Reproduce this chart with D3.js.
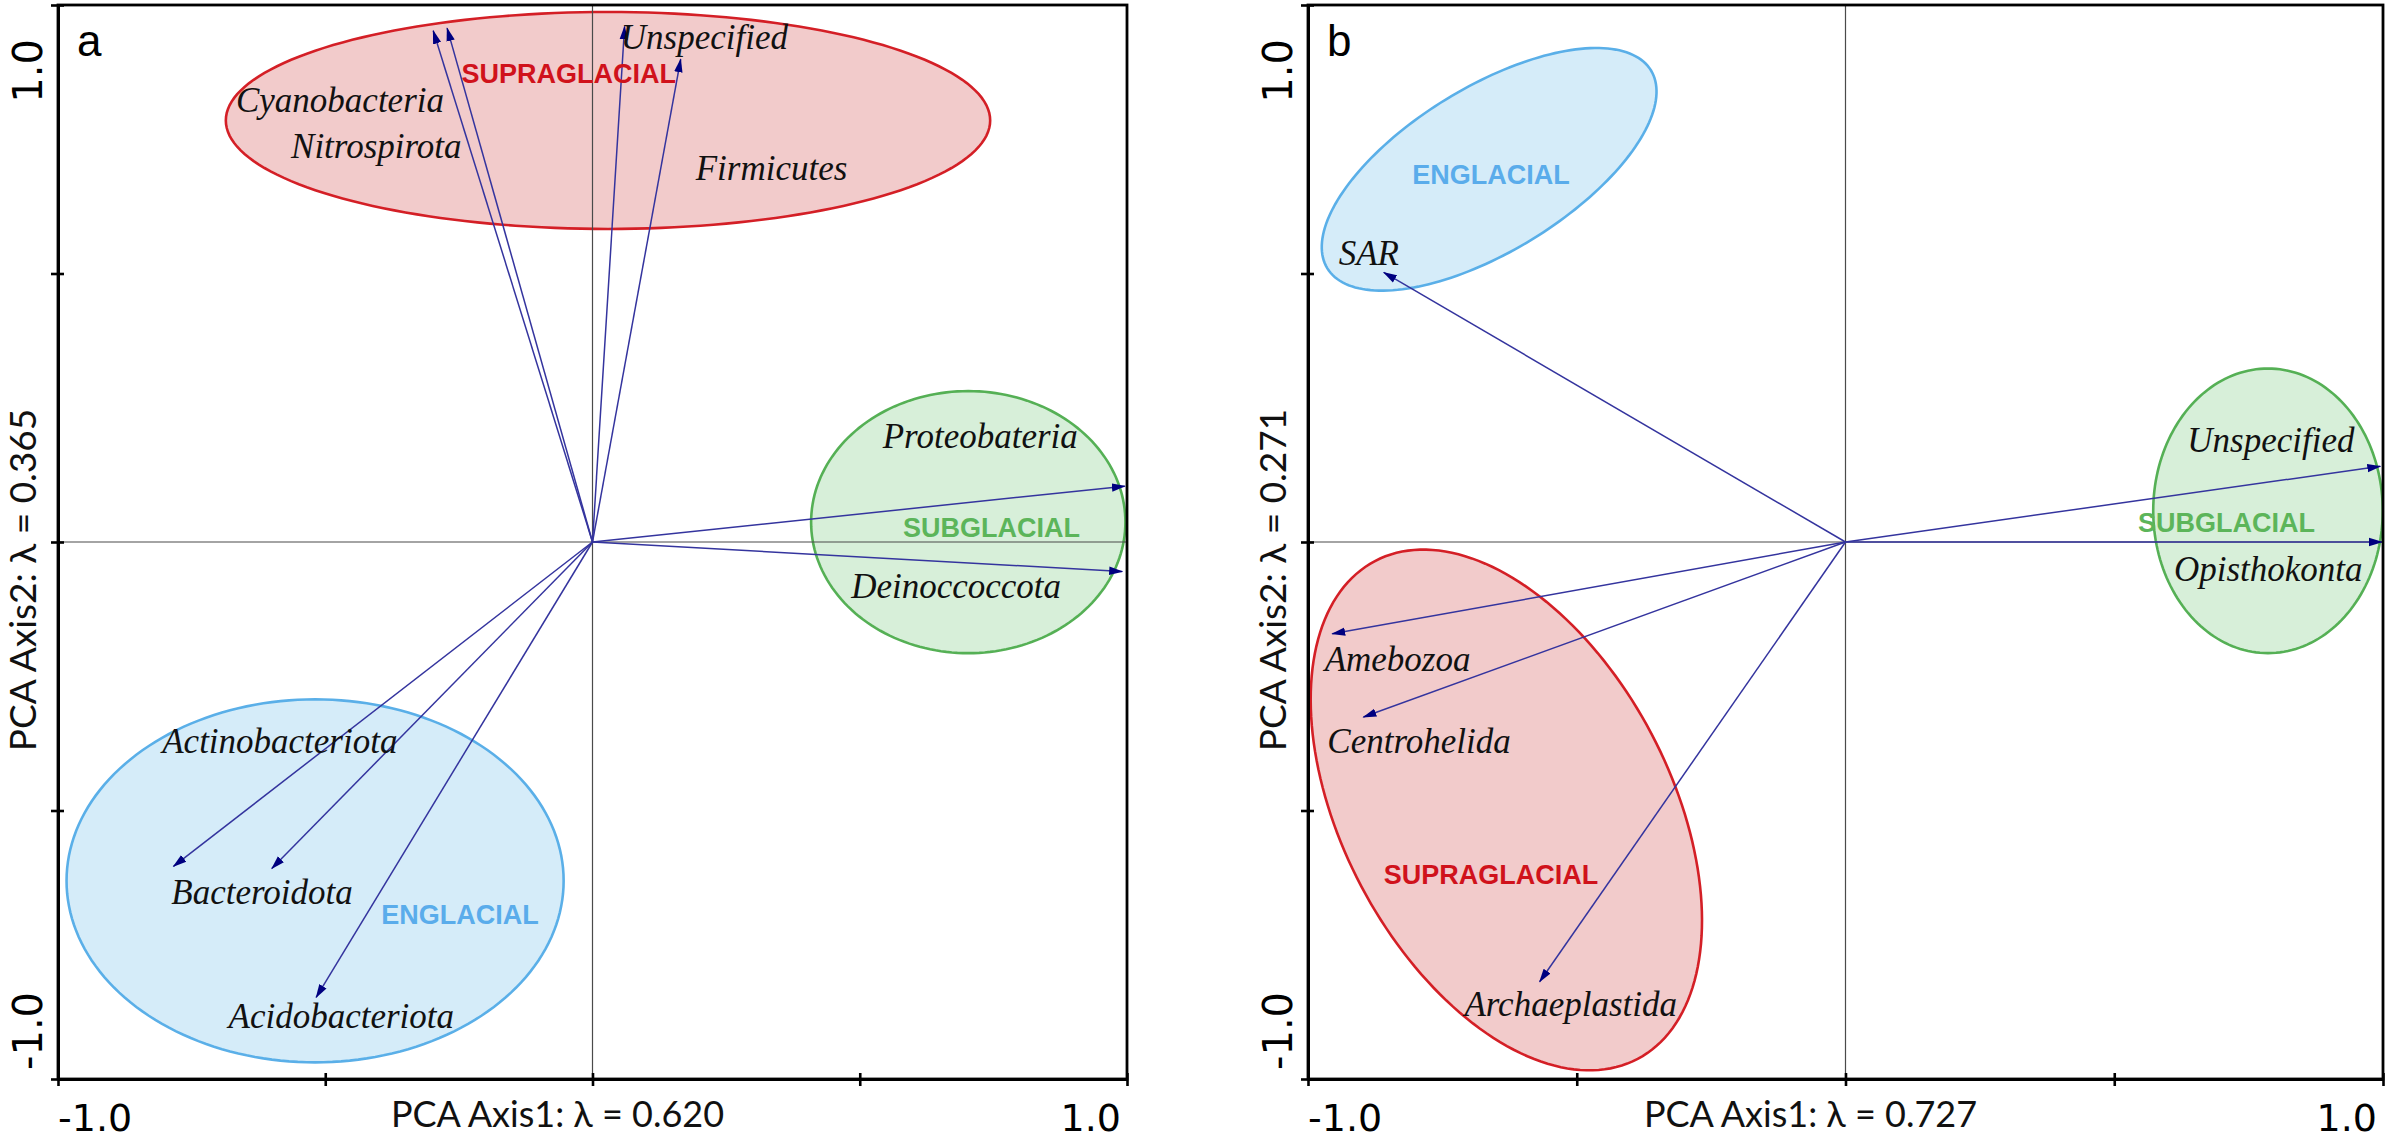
<!DOCTYPE html>
<html><head><meta charset="utf-8">
<script src="https://cdn.jsdelivr.net/npm/d3@7"></script>
<style>body{margin:0;background:#fff} svg{display:block}</style>
</head><body><svg id="chart" width="2389" height="1142"></svg>
<script>
// ---------- DATA ----------
const tickValues = [-1, -0.5, 0, 0.5, 1];
const tickLabelLow = "-1.0";
const tickLabelHigh = "1.0";

// Panel a (bacteria)
const speciesA = ["Cyanobacteria","Nitrospirota","Unspecified","Firmicutes","Proteobateria","Deinoccoccota","Actinobacteriota","Bacteroidota","Acidobacteriota"];
const pc1A = [-0.298, -0.272, 0.060, 0.165, 0.996, 0.991, -0.784, -0.600, -0.517];
const pc2A = [0.952, 0.957, 0.960, 0.899, 0.104, -0.055, -0.604, -0.608, -0.848];
const labelPc1A = [-0.667, -0.564, 0.053, 0.193, 0.543, 0.484, -0.805, -0.788, -0.681];
const labelPc2A = [0.801, 0.715, 0.918, 0.674, 0.175, -0.104, -0.393, -0.674, -0.905];
const groupsA = ["SUPRAGLACIAL","SUBGLACIAL","ENGLACIAL"];
const groupLabelPc1A = [-0.245, 0.581, -0.395];
const groupLabelPc2A = [0.855, 0.009, -0.712];
const ellCenterPc1A = [0.029, 0.703, -0.519];
const ellCenterPc2A = [0.785, 0.037, -0.631];
const ellSemiMajorA = [0.715, 0.294, 0.465];
const ellSemiMinorA = [0.202, 0.244, 0.338];
const ellAngleA = [0, 0, 0];
const axisTitlesA = ["PCA Axis1: λ = 0.620", "PCA Axis2: λ = 0.365"];

// Panel b (eukaryotes)
const speciesB = ["SAR","Unspecified","Opisthokonta","Amebozoa","Centrohelida","Archaeplastida"];
const pc1B = [-0.859, 0.995, 0.998, -0.955, -0.897, -0.569];
const pc2B = [0.502, 0.141, 0.000, -0.171, -0.326, -0.819];
const labelPc1B = [-0.943, 0.636, 0.611, -0.969, -0.964, -0.709];
const labelPc2B = [0.515, 0.168, -0.073, -0.240, -0.392, -0.883];
const groupsB = ["ENGLACIAL","SUBGLACIAL","SUPRAGLACIAL"];
const groupLabelPc1B = [-0.806, 0.544, -0.859];
const groupLabelPc2B = [0.667, 0.018, -0.637];
const ellCenterPc1B = [-0.663, 0.786, -0.631];
const ellCenterPc2B = [0.694, 0.058, -0.499];
const ellSemiMajorB = [0.353, 0.2135, 0.524];
const ellSemiMinorB = [0.153, 0.265, 0.305];
const ellAngleB = [31.5, 0, -62.2];
const axisTitlesB = ["PCA Axis1: λ = 0.727", "PCA Axis2: λ = 0.271"];

const panelLetters = ["a", "b"];

// ---------- STYLE ----------
const groupStyle = {
  SUPRAGLACIAL: {fill: "#f2cbcb", stroke: "#d41f26", text: "#d0121b"},
  ENGLACIAL:    {fill: "#d5ecf9", stroke: "#5aafe8", text: "#5aaceb"},
  SUBGLACIAL:   {fill: "#d7efd9", stroke: "#55b055", text: "#5cb55a"}
};
const arrowColor = "#34349e";
const arrowHead = "#000080";

const svg = d3.select("#chart");
const defs = svg.append("defs");
defs.append("marker")
  .attr("id", "ah").attr("markerUnits", "userSpaceOnUse")
  .attr("viewBox", "0 -5 14 10").attr("refX", 13).attr("refY", 0)
  .attr("markerWidth", 14).attr("markerHeight", 10).attr("orient", "auto")
  .append("path").attr("d", "M0,-4.2L14,0L0,4.2Z").attr("fill", arrowHead);

function drawPanel(p) {
  const x = d3.scaleLinear().domain([-1, 1]).range([p.left, p.right]);
  const y = d3.scaleLinear().domain([-1, 1]).range([p.bottom, p.top]);
  const g = svg.append("g");

  // ellipses
  const line = d3.line().x(d => x(d[0])).y(d => y(d[1]));
  p.groups.forEach((grp, i) => {
    const th = p.ellAngle[i] * Math.PI / 180;
    const pts = d3.range(0, 181).map(k => {
      const t = k / 180 * 2 * Math.PI;
      const a = p.ellA[i] * Math.cos(t), b = p.ellB[i] * Math.sin(t);
      return [p.ellCx[i] + a * Math.cos(th) - b * Math.sin(th),
              p.ellCy[i] + a * Math.sin(th) + b * Math.cos(th)];
    });
    g.append("path").attr("d", line(pts) + "Z")
      .attr("fill", groupStyle[grp].fill)
      .attr("stroke", groupStyle[grp].stroke)
      .attr("stroke-width", 2.6);
  });

  // zero lines
  g.append("line").attr("x1", x(0)).attr("x2", x(0)).attr("y1", y(1)).attr("y2", y(-1))
    .attr("stroke", "#4a4a4a").attr("stroke-width", 1.2);
  g.append("line").attr("x1", x(-1)).attr("x2", x(1)).attr("y1", y(0)).attr("y2", y(0))
    .attr("stroke", "#4a4a4a").attr("stroke-width", 1.2);

  // arrows
  p.species.forEach((s, i) => {
    g.append("path")
      .attr("d", line([[0, 0], [p.pc1[i], p.pc2[i]]]))
      .attr("stroke", arrowColor).attr("stroke-width", 1.5).attr("fill", "none")
      .attr("marker-end", "url(#ah)");
  });

  // species labels
  p.species.forEach((s, i) => {
    g.append("text").attr("x", x(p.lx[i])).attr("y", y(p.ly[i]))
      .attr("font-family", "'Liberation Serif','Times New Roman',serif")
      .attr("font-style", "italic").attr("font-size", 35).attr("fill", "#111")
      .text(s);
  });

  // group labels
  p.groups.forEach((grp, i) => {
    g.append("text").attr("x", x(p.glx[i])).attr("y", y(p.gly[i]))
      .attr("font-family", "'Liberation Sans',Arial,sans-serif")
      .attr("font-weight", "bold").attr("font-size", 27)
      .attr("fill", groupStyle[grp].text).text(grp);
  });

  // frame
  g.append("rect").attr("x", x(-1)).attr("y", y(1))
    .attr("width", x(1) - x(-1)).attr("height", y(-1) - y(1))
    .attr("fill", "none").attr("stroke", "#000").attr("stroke-width", 2.8);

  // axes with ticks crossing the line
  const ax = [
    d3.axisBottom(x).tickValues(tickValues).tickSizeInner(7).tickSizeOuter(0).tickFormat(""),
    d3.axisTop(x).tickValues(tickValues).tickSizeInner(6).tickSizeOuter(0).tickFormat("")
  ];
  ax.forEach(a => {
    const ag = g.append("g").attr("transform", `translate(0,${y(-1)})`).call(a);
    ag.select(".domain").attr("stroke", "#000").attr("stroke-width", 2.8);
    ag.selectAll(".tick line").attr("stroke", "#000").attr("stroke-width", 2.6);
  });
  const ay = [
    d3.axisLeft(y).tickValues(tickValues).tickSizeInner(7).tickSizeOuter(0).tickFormat(""),
    d3.axisRight(y).tickValues(tickValues).tickSizeInner(6).tickSizeOuter(0).tickFormat("")
  ];
  ay.forEach(a => {
    const ag = g.append("g").attr("transform", `translate(${x(-1)},0)`).call(a);
    ag.select(".domain").attr("stroke", "#000").attr("stroke-width", 2.8);
    ag.selectAll(".tick line").attr("stroke", "#000").attr("stroke-width", 2.6);
  });

  // tick labels
  const tf = "'DejaVu Sans',Verdana,sans-serif";
  g.append("text").attr("x", x(-1)).attr("y", 1131).attr("font-family", tf).attr("font-size", 38)
    .attr("text-anchor", "start").text(tickLabelLow);
  g.append("text").attr("x", x(1) - 6).attr("y", 1131).attr("font-family", tf).attr("font-size", 38)
    .attr("text-anchor", "end").text(tickLabelHigh);
  const lx = x(-1) - 16;
  g.append("text").attr("transform", `translate(${lx},${y(1) + 34}) rotate(-90)`)
    .attr("font-family", tf).attr("font-size", 40).attr("text-anchor", "end").text(tickLabelHigh);
  g.append("text").attr("transform", `translate(${lx},${y(-1) - 9}) rotate(-90)`)
    .attr("font-family", tf).attr("font-size", 40).attr("text-anchor", "start").text(tickLabelLow);

  // axis titles
  const af = "Lato,'Open Sans',sans-serif";
  g.append("text").attr("x", x(0) - 35).attr("y", 1127).attr("font-family", af)
    .attr("font-size", 36).attr("text-anchor", "middle").attr("fill", "#111").text(p.titles[0]);
  g.append("text").attr("transform", `translate(${x(-1) - 22},${y(0) + 38}) rotate(-90)`)
    .attr("font-family", af).attr("font-size", 37).attr("text-anchor", "middle")
    .attr("fill", "#111").text(p.titles[1]);

  // panel letter
  g.append("text").attr("x", x(-1) + 19).attr("y", 56)
    .attr("font-family", "'Liberation Sans',Arial,sans-serif").attr("font-size", 44)
    .text(p.letter);
}

drawPanel({left: 58, right: 1127, top: 5, bottom: 1079,
  species: speciesA, pc1: pc1A, pc2: pc2A, lx: labelPc1A, ly: labelPc2A,
  groups: groupsA, glx: groupLabelPc1A, gly: groupLabelPc2A,
  ellCx: ellCenterPc1A, ellCy: ellCenterPc2A, ellA: ellSemiMajorA, ellB: ellSemiMinorA, ellAngle: ellAngleA,
  titles: axisTitlesA, letter: panelLetters[0]});
drawPanel({left: 1308, right: 2383, top: 5, bottom: 1079,
  species: speciesB, pc1: pc1B, pc2: pc2B, lx: labelPc1B, ly: labelPc2B,
  groups: groupsB, glx: groupLabelPc1B, gly: groupLabelPc2B,
  ellCx: ellCenterPc1B, ellCy: ellCenterPc2B, ellA: ellSemiMajorB, ellB: ellSemiMinorB, ellAngle: ellAngleB,
  titles: axisTitlesB, letter: panelLetters[1]});
</script></body></html>
